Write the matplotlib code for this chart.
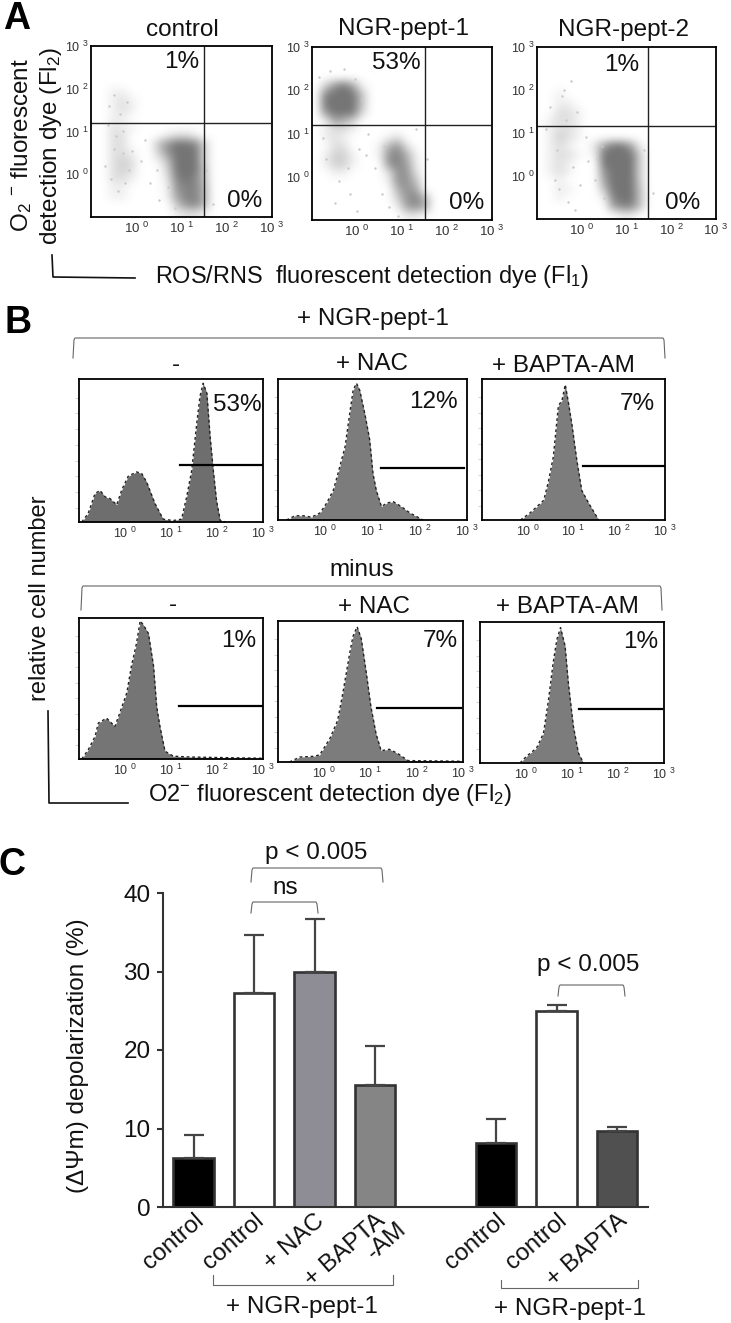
from matplotlib import pyplot as plt
from matplotlib.colors import LinearSegmentedColormap

plt.rcParams['font.family'] = ['Liberation Sans', 'DejaVu Sans']
plt.rcParams['mathtext.default'] = 'regular'

W, H = 731, 1323

# Panel A: dot density, rows top to bottom, 0 = white, 9 = solid
density_control = [
    "00000000000000000000",
    "00000000000000000000",
    "00000000000000000000",
    "00000000000000000000",
    "00000000000000000000",
    "00110000000000000000",
    "00121000000000000000",
    "00121000000000000000",
    "00110000000000000000",
    "00211000000000000000",
    "00220000122100000000",
    "00220004799830000000",
    "00221003799930000000",
    "00232001499930000000",
    "00232000399940000000",
    "00221000289840000000",
    "00110000178850000000",
    "00110000168850000000",
    "00000000047850000000",
    "00000000012210000000",
]
density_pept1 = [
    "00000000000000000000",
    "00000000000000000000",
    "00000000000000000000",
    "00000000000000000000",
    "03796100000000000000",
    "08999400000000000000",
    "09999400000000000000",
    "07999300000000000000",
    "01653000000000000000",
    "01221000000000000000",
    "01210000120000000000",
    "00220001572000000000",
    "01331001785100000000",
    "01331000786100000000",
    "00110000277200000000",
    "00000000177400000000",
    "00000000057600000000",
    "00000000037850000000",
    "00000000016750000000",
    "00000000001100000000",
]
density_pept2 = [
    "00000000000000000000",
    "00000000000000000000",
    "00000000000000000000",
    "00000000000000000000",
    "00000000000000000000",
    "00100000000000000000",
    "00110000000000000000",
    "00221000000000000000",
    "01221000000000000000",
    "01221000000000000000",
    "01321000000000000000",
    "01210026996100000000",
    "01221019999300000000",
    "01210009999300000000",
    "01210007999300000000",
    "00100006999300000000",
    "00110004999400000000",
    "00100001899400000000",
    "00000000688400000000",
    "00000000011000000000",
]
# loose single dots around the clouds, in decades
dots_control_x = [-0.6, -0.5, -0.35, -0.2, -0.45, -0.3, -0.7, -0.55, -0.15, -0.4, -0.25, 0.1, 0.3, 0.5, -0.5,
                  -0.3, 0.2, 0.45, 0.7, 0.85, 1.55, 1.7, -0.62, -0.1]
dots_control_y = [1.6, 1.85, 1.4, 1.7, 0.9, 0.5, 0.2, -0.1, 0.1, -0.4, -0.2, 0.3, -0.2, -0.6, 0.6, 1.0, 0.8,
                  0.1, -0.3, -0.8, 0.1, -0.7, 1.15, 0.55]
dots_pept1_x = [-0.85, -0.6, -0.3, -0.05, 0.1, -0.7, -0.4, -0.15, 0.2, 0.4, 0.55, 0.7, 0.25, -0.5, -0.2, 0.0,
                0.6, 0.9, 1.55, 1.3, -0.75, 0.05]
dots_pept1_y = [2.3, 2.45, 2.5, 2.25, 1.8, 0.4, -0.1, -0.4, 0.5, 0.2, -0.4, -0.7, 1.0, -0.6, 0.2, -0.8, 0.7,
                -0.9, 0.4, 1.1, 0.9, 0.65]
dots_pept2_x = [-0.7, -0.45, -0.25, -0.1, -0.35, -0.55, -0.8, -0.2, -0.05, 0.15, 0.3, 0.45, -0.5, -0.3, -0.15,
                0.1, 0.35, 0.5, 1.4, 1.6, -0.4, -0.6]
dots_pept2_y = [1.6, 1.85, 2.2, 1.5, 1.3, 0.6, 1.1, 0.2, -0.2, 0.35, -0.1, 0.7, -0.3, -0.6, -0.8, 0.9, 0.4,
                -0.5, 0.6, -0.4, 2.0, -0.1]
scatter_names = ["control", "NGR-pept-1", "NGR-pept-2"]
scatter_pct_upper = ["1%", "53%", "1%"]
scatter_pct_lower = ["0%", "0%", "0%"]
quad_x = [1.50, 1.51, 1.48]
quad_y = [1.20, 1.20, 1.16]

# Panel B: histograms, x in decades, y as a share of the frame height
h1_x = [-0.94, -0.80, -0.65, -0.54, -0.43, -0.33, -0.18, -0.07, 0.07, 0.25, 0.36, 0.47, 0.65, 0.83, 1.05, 1.23,
        1.34, 1.45, 1.56, 1.63, 1.70, 1.78, 1.85, 1.92, 1.99, 2.07, 2.2]
h1_y = [0, 0.06, 0.20, 0.22, 0.175, 0.165, 0.12, 0.225, 0.32, 0.35, 0.34, 0.28, 0.13, 0.02, 0.01, 0.02,
        0.175, 0.36, 0.69, 0.88, 0.97, 0.90, 0.60, 0.36, 0.15, 0.01, 0]
h2_x = [-0.82, -0.64, -0.46, -0.29, -0.11, 0.03, 0.17, 0.27, 0.42, 0.52, 0.59, 0.66, 0.73, 0.84, 0.94, 1.01,
        1.08, 1.19, 1.30, 1.44, 1.61, 1.79, 2.07]
h2_y = [0, 0.03, 0.03, 0.02, 0.05, 0.12, 0.21, 0.33, 0.52, 0.76, 0.92, 0.97, 0.92, 0.75, 0.57, 0.33,
        0.21, 0.095, 0.12, 0.13, 0.095, 0.05, 0]
h3_x = [-0.16, 0.05, 0.35, 0.45, 0.56, 0.67, 0.75, 0.82, 0.89, 0.96, 1.07, 1.18, 1.33, 1.55]
h3_y = [0, 0.05, 0.14, 0.27, 0.45, 0.81, 0.85, 0.96, 0.83, 0.69, 0.43, 0.21, 0.12, 0]
h4_x = [-0.94, -0.80, -0.65, -0.58, -0.40, -0.22, -0.11, 0.04, 0.14, 0.25, 0.33, 0.40, 0.51, 0.62, 0.69, 0.76,
        0.87, 1.05, 1.41, 3.0]
h4_y = [0, 0.065, 0.16, 0.255, 0.29, 0.23, 0.33, 0.47, 0.66, 0.82, 0.98, 0.95, 0.89, 0.66, 0.37, 0.23,
        0.055, 0.02, 0.014, 0.005]
h5_x = [-0.75, -0.53, -0.24, -0.10, 0.12, 0.29, 0.40, 0.55, 0.62, 0.71, 0.80, 0.91, 1.01, 1.12, 1.23, 1.41,
        1.59, 1.81, 3.0]
h5_y = [0, 0.035, 0.04, 0.05, 0.165, 0.295, 0.485, 0.77, 0.89, 0.96, 0.875, 0.63, 0.39, 0.20, 0.08, 0.09,
        0.06, 0.01, 0.005]
h6_x = [-0.13, 0.01, 0.23, 0.38, 0.49, 0.59, 0.67, 0.75, 0.85, 0.92, 1.03, 1.14, 1.25]
h6_y = [0, 0.047, 0.106, 0.21, 0.45, 0.71, 0.875, 0.96, 0.83, 0.57, 0.26, 0.07, 0]
hist_pct = ["53%", "12%", "7%", "1%", "7%", "1%"]
gate_x0 = [1.20, 1.18, 1.20, 1.18, 1.14, 1.15]
gate_x1 = [3.00, 2.93, 3.00, 3.00, 2.96, 2.95]
gate_y = [0.40, 0.372, 0.38, 0.375, 0.383, 0.385]

# Panel C
bar_pos = [0, 1, 2, 3, 5, 6, 7]
bar_val = [6.3, 27.3, 29.9, 15.6, 8.15, 25.0, 9.7]
bar_err = [2.85, 7.4, 6.8, 4.9, 3.05, 0.7, 0.5]
bar_colors = ["#000000", "#ffffff", "#8e8c94", "#858585", "#000000", "#ffffff", "#505050"]
bar_labels = ["control", "control", "+ NAC", "+ BAPTA", "control", "control", "+ BAPTA"]
y_ticks = [0, 10, 20, 30, 40]


def px_axes(left, top, right, bottom):
    return fig.add_axes([left / W, 1 - bottom / H, (right - left) / W, (bottom - top) / H])


def decade_labels(ax, size=9.5):
    labels = ["10 $^{%d}$" % i for i in range(4)]
    ax.set_xticks(range(4), labels, fontsize=size, color="#333333")
    ax.tick_params(axis="x", length=0, pad=3)


def bracket(x0, x1, y_top, y_bot):
    over.plot([x0, x0 + 1, x0 + 2, x1 - 2, x1 - 1, x1], [y_bot, y_top + 2, y_top, y_top, y_top + 2, y_bot],
              color="#666666", lw=0.8)


def label(x, y, s, size=17.5, **kw):
    over.text(x, y, s, fontsize=size, ha=kw.pop("ha", "center"), va="center", color="#111111", **kw)


fig = plt.figure(figsize=(W / 100, H / 100), dpi=100)

# overlay in image pixels for the free text and brackets
over = fig.add_axes([0, 0, 1, 1], zorder=5)
over.set_xlim(0, W)
over.set_ylim(H, 0)
over.axis("off")

# Panel A
grey_map = LinearSegmentedColormap.from_list("dots", ["#ffffff", "#757575"])
scatter_boxes = [(91, 46, 272, 217), (312, 47, 492, 220), (537, 47, 716, 219)]
densities = [density_control, density_pept1, density_pept2]
dots_x = [dots_control_x, dots_pept1_x, dots_pept2_x]
dots_y = [dots_control_y, dots_pept1_y, dots_pept2_y]
for i, box in enumerate(scatter_boxes):
    ax = px_axes(*box)
    grid = [[int(c) / 9 for c in row] for row in densities[i]]
    ax.imshow(grid, cmap=grey_map, vmin=0, vmax=1, extent=(-1, 3, -1, 3), origin="upper",
              interpolation="bicubic", aspect="auto")
    ax.scatter(dots_x[i], dots_y[i], s=3, color="#cacaca", lw=0)
    ax.plot([quad_x[i], quad_x[i]], [-1, 3], color="#222222", lw=1)
    ax.plot([-1, 2.95], [quad_y[i], quad_y[i]], color="#222222", lw=1)
    ax.set_xlim(-1, 3)
    ax.set_ylim(-1, 3)
    decade_labels(ax)
    ax.set_yticks(range(4), ["10 $^{%d}$" % k for k in range(4)], fontsize=9, color="#333333")
    ax.tick_params(axis="y", length=0, pad=1.5)
    for s in ax.spines.values():
        s.set_linewidth(1.3)

label(182, 30, scatter_names[0])
label(404, 29, scatter_names[1])
label(624, 30, scatter_names[2])
for x, y, s in zip([182, 396, 622], [62, 63, 65], scatter_pct_upper):
    label(x, y, s)
for x, y, s in zip([245, 467, 683], [201, 203, 203], scatter_pct_lower):
    label(x, y, s)
label(22, 145, "O$_2$ $^{-}$ fluorescent", rotation=90)
label(51, 146, "detection dye (Fl$_2$)", rotation=90)
label(372, 277, "ROS/RNS  fluorescent detection dye (Fl$_1$)", size=16.9)
over.plot([52, 53, 135], [255, 277, 278], color="#111111", lw=1.2)

# Panel B
hist_boxes = [(79, 379, 263, 522), (278, 379, 467, 520), (482, 379, 665, 520),
              (79, 618, 263, 759), (278, 621, 463, 762), (480, 622, 664, 763)]
hist_x = [h1_x, h2_x, h3_x, h4_x, h5_x, h6_x]
hist_y = [h1_y, h2_y, h3_y, h4_y, h5_y, h6_y]
hist_fill = ["#6e6e6e", "#7c7c7c", "#7c7c7c", "#757575", "#7c7c7c", "#7c7c7c"]
pct_xy = [(237, 405), (433, 402), (637, 404), (239, 641), (440, 641), (641, 642)]
count_ticks = [0.1, 0.21, 0.32, 0.43, 0.54, 0.65, 0.76, 0.87]
for i, box in enumerate(hist_boxes):
    ax = px_axes(*box)
    ax.fill_between(hist_x[i], hist_y[i], color=hist_fill[i], lw=0)
    ax.plot(hist_x[i], hist_y[i], color="#222222", lw=1, ls=(0, (2, 2)))
    ax.plot([gate_x0[i], gate_x1[i]], [gate_y[i], gate_y[i]], color="#000000", lw=1.6)
    ax.set_xlim(-1, 3)
    ax.set_ylim(0, 1)
    decade_labels(ax, 9)
    ax.set_yticks(count_ticks, [""] * len(count_ticks))
    ax.tick_params(axis="y", length=3, width=0.8, color="#d5d5d5")
    for s in ax.spines.values():
        s.set_linewidth(1.3)
    label(pct_xy[i][0], pct_xy[i][1], hist_pct[i])

bracket(73, 665, 338, 358)
bracket(81, 662, 586, 610)
label(373, 319, "+ NGR-pept-1")
label(362, 570, "minus")
label(176, 365, "-")
label(372, 364, "+ NAC")
label(563, 366, "+ BAPTA-AM")
label(173, 605, "-")
label(374, 607, "+ NAC")
label(567, 607, "+ BAPTA-AM")
label(40, 598, "relative cell number", size=17, rotation=90)
label(330, 795, "O2$^{-}$ fluorescent detection dye (Fl$_2$)", size=17)
over.plot([48, 49, 128], [711, 803, 803], color="#111111", lw=1.2)

# Panel C
ax = px_axes(163, 893, 648, 1207)
ax.bar(bar_pos, bar_val, width=0.67, color=bar_colors, edgecolor="#333333", lw=1.9)
ax.errorbar(bar_pos, bar_val, yerr=[[0] * 7, bar_err], fmt="none", ecolor="#444444", elinewidth=1.6,
            capsize=7.5, capthick=1.6, zorder=1)
ax.set_xlim(-0.504, 7.51)
ax.set_ylim(0, 40)
ax.spines["top"].set_visible(False)
ax.spines["right"].set_visible(False)
ax.spines["left"].set_linewidth(1.5)
ax.spines["bottom"].set_linewidth(1.5)
ax.spines["left"].set_color("#333333")
ax.spines["bottom"].set_color("#333333")
ax.set_yticks(y_ticks, [str(v) for v in y_ticks], fontsize=17.5, color="#111111")
ax.tick_params(axis="y", length=4, width=1.5, pad=5, color="#333333")
ax.set_xticks(bar_pos, bar_labels, fontsize=17.5, rotation=41, ha="right", rotation_mode="anchor",
              color="#111111")
ax.tick_params(axis="x", length=0, pad=2)
ax.patch.set_alpha(0)

label(387, 1241, "-AM", rotation=41)
label(78, 1056, "(\u0394\u03a8m) depolarization (%)", rotation=90)
label(316, 853, "p < 0.005")
label(285, 888, "ns")
label(588, 965, "p < 0.005")
label(302, 1307, "+ NGR-pept-1")
label(570, 1309, "+ NGR-pept-1")
bracket(251, 383, 868, 882)
bracket(251, 318, 902, 913)
bracket(558, 625, 985, 996)
# these two open upwards
over.plot([213, 213, 393, 393], [1275, 1285, 1285, 1275], color="#666666", lw=0.8)
over.plot([501, 501, 638, 638], [1280, 1288, 1288, 1280], color="#666666", lw=0.8)

# Panel letters
for x, y, s in zip([17, 18, 12], [19, 323, 865], "ABC"):
    over.text(x, y, s, fontsize=27, fontweight="bold", ha="center", va="center", color="#000000")

fig.savefig("out.png", dpi=100)
